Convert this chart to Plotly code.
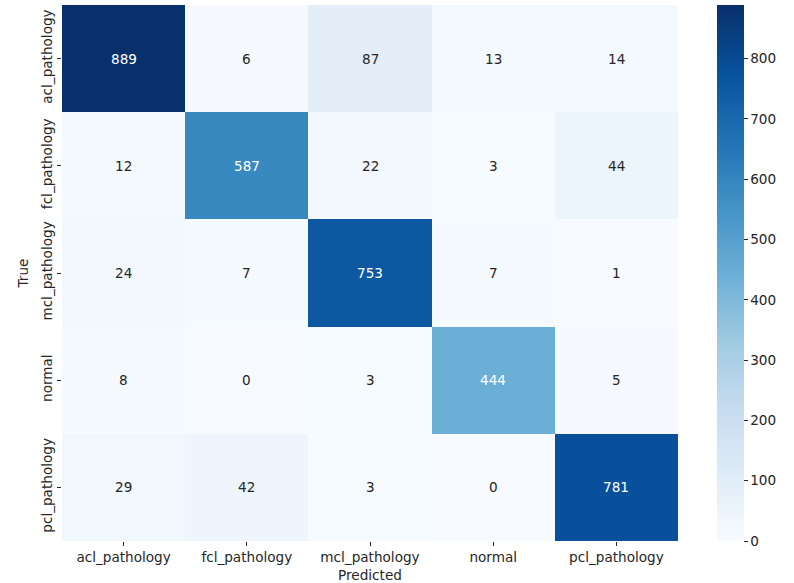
import plotly.graph_objects as go

# Confusion matrix: rows = true class, columns = predicted class
classes = ["acl_pathology", "fcl_pathology", "mcl_pathology", "normal", "pcl_pathology"]
counts = [
    [889, 6, 87, 13, 14],
    [12, 587, 22, 3, 44],
    [24, 7, 753, 7, 1],
    [8, 0, 3, 444, 5],
    [29, 42, 3, 0, 781],
]
colorbar_ticks = [0, 100, 200, 300, 400, 500, 600, 700, 800]

# matplotlib "Blues" palette
blues = ["#f7fbff", "#deebf7", "#c6dbef", "#9ecae1", "#6baed6",
         "#4292c6", "#2171b5", "#08519c", "#08306b"]
colorscale = [[i / (len(blues) - 1), c] for i, c in enumerate(blues)]

FONT = "DejaVu Sans"
FS = 13.6
zmax = max(max(r) for r in counts)
zmin = min(min(r) for r in counts)

fig = go.Figure(
    go.Heatmap(
        z=counts,
        x=classes,
        y=classes,
        zmin=zmin,
        zmax=zmax,
        colorscale=colorscale,
        xgap=0,
        ygap=0,
        hoverongaps=False,
        colorbar=dict(
            x=1.0628,
            xanchor="left",
            y=0.5,
            yanchor="middle",
            len=1.0,
            lenmode="fraction",
            thickness=27,
            outlinewidth=0,
            xpad=0,
            ypad=0,
            tickvals=colorbar_ticks,
            ticks="outside",
            ticklen=4,
            tickwidth=1,
            tickcolor="#262626",
            tickfont=dict(family=FONT, size=FS, color="#262626"),
        ),
    )
)

# Cell value labels, light text on dark cells
for i, row in enumerate(counts):
    for j, v in enumerate(row):
        frac = (v - zmin) / (zmax - zmin)
        fig.add_annotation(
            x=classes[j], y=classes[i], text=str(v), showarrow=False,
            font=dict(family=FONT, size=FS,
                      color="white" if frac > 0.45 else "#262626"),
        )

fig.update_xaxes(
    title=dict(text="Predicted", font=dict(family=FONT, size=FS, color="#262626"), standoff=6),
    tickfont=dict(family=FONT, size=FS, color="#262626"),
    ticks="outside", ticklen=4, tickwidth=1, tickcolor="#262626",
    showgrid=False, zeroline=False, showline=False,
)
fig.update_yaxes(
    title=dict(text="True", font=dict(family=FONT, size=FS, color="#262626"), standoff=6),
    tickfont=dict(family=FONT, size=FS, color="#262626"),
    tickangle=-90,
    ticks="outside", ticklen=4, tickwidth=1, tickcolor="#262626",
    autorange="reversed",
    showgrid=False, zeroline=False, showline=False,
)

fig.update_layout(
    width=794,
    height=583,
    margin=dict(l=62, r=116, t=5, b=42, autoexpand=False),
    plot_bgcolor="white",
    paper_bgcolor="white",
    font=dict(family=FONT, size=FS, color="#262626"),
)

fig.write_html("out.html")
